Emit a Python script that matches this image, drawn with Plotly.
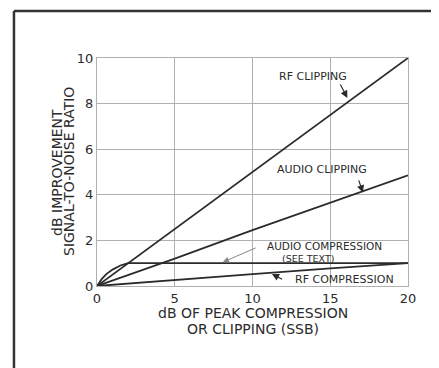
import plotly.graph_objects as go

# Curves (x: dB of peak compression/clipping, y: dB S/N improvement)
rf_clip_x = [0, 5, 10, 15, 20]
rf_clip_y = [0, 2.5, 5.0, 7.5, 10.0]

audio_clip_x = [0, 5, 10, 15, 20]
audio_clip_y = [0, 1.2, 2.45, 3.65, 4.85]

audio_comp_x = [0, 0.3, 0.6, 1.0, 1.5, 2.0, 5, 10, 15, 20]
audio_comp_y = [0, 0.3, 0.52, 0.72, 0.9, 1.0, 1.0, 1.0, 1.0, 1.0]

rf_comp_x = [0, 5, 10, 15, 20]
rf_comp_y = [0, 0.27, 0.52, 0.77, 1.0]

x_ticks = [0, 5, 10, 15, 20]
y_ticks = [0, 2, 4, 6, 8, 10]

ink = "#2b2b2b"
grid = "#b0b0b0"
font = "DejaVu Sans"

fig = go.Figure()
for xs, ys in [(rf_clip_x, rf_clip_y), (audio_clip_x, audio_clip_y),
               (audio_comp_x, audio_comp_y), (rf_comp_x, rf_comp_y)]:
    fig.add_trace(go.Scatter(x=xs, y=ys, mode="lines", line=dict(color=ink, width=1.8),
                             showlegend=False, hoverinfo="skip"))


def label(text, x, y, size=11):
    fig.add_annotation(x=x, y=y, text=text, showarrow=False, borderpad=0,
                       font=dict(family=font, size=size, color=ink))


def arrow(x, y, ax, ay, color=ink, width=1.2):
    fig.add_annotation(x=x, y=y, ax=ax, ay=ay, axref="x", ayref="y", text="",
                       showarrow=True, arrowhead=2, arrowsize=1.2, arrowwidth=width, arrowcolor=color)


label("RF CLIPPING", 13.9, 9.2)
arrow(16.1, 8.25, 15.6, 8.9)
label("AUDIO CLIPPING", 14.5, 5.1)
arrow(17.1, 4.1, 16.8, 4.7)
label("AUDIO COMPRESSION", 14.6, 1.76, size=10.5)
label("(SEE TEXT)", 13.6, 1.2, size=9.5)
arrow(8.1, 1.05, 10.3, 1.7, color="#888", width=1.0)
label("RF COMPRESSION", 15.9, 0.3)
arrow(11.25, 0.53, 12.0, 0.26)

# Axis titles as separate text lines (tight line spacing like the original lettering)
for txt, xp in [("dB IMPROVEMENT", -0.129), ("SIGNAL-TO-NOISE RATIO", -0.09)]:
    fig.add_annotation(xref="paper", yref="paper", x=xp, y=0.5, text=txt, textangle=-90,
                       xanchor="center", yanchor="middle", showarrow=False,
                       font=dict(family=font, size=14, color=ink))
for txt, yp in [("dB OF PEAK COMPRESSION", -0.118), ("OR CLIPPING (SSB)", -0.189)]:
    fig.add_annotation(xref="paper", yref="paper", x=0.5, y=yp, text=txt,
                       xanchor="center", yanchor="middle", showarrow=False,
                       font=dict(family=font, size=14, color=ink))

# Outer frame of the page (top and left edges)
fig.add_shape(type="line", xref="paper", yref="paper", x0=-0.267, y0=1.206, x1=1.3, y1=1.206,
              line=dict(color="#333", width=2.5))
fig.add_shape(type="line", xref="paper", yref="paper", x0=-0.267, y0=1.206, x1=-0.267, y1=-0.6,
              line=dict(color="#333", width=2.5))

fig.update_layout(
    width=439, height=368,
    margin=dict(l=89, r=39, t=50, b=90),
    paper_bgcolor="white", plot_bgcolor="white",
    font=dict(family=font, color=ink),
    xaxis=dict(range=[0, 20], tickvals=x_ticks, showgrid=True, gridcolor=grid, gridwidth=1,
               showline=True, linecolor=grid, mirror=True, zeroline=False, ticks="",
               tickfont=dict(size=13, color=ink)),
    yaxis=dict(range=[0, 10], tickvals=y_ticks, showgrid=True, gridcolor=grid, gridwidth=1,
               showline=True, linecolor=grid, mirror=True, zeroline=False, ticks="",
               tickfont=dict(size=13, color=ink)),
)

fig.write_html("out.html")
